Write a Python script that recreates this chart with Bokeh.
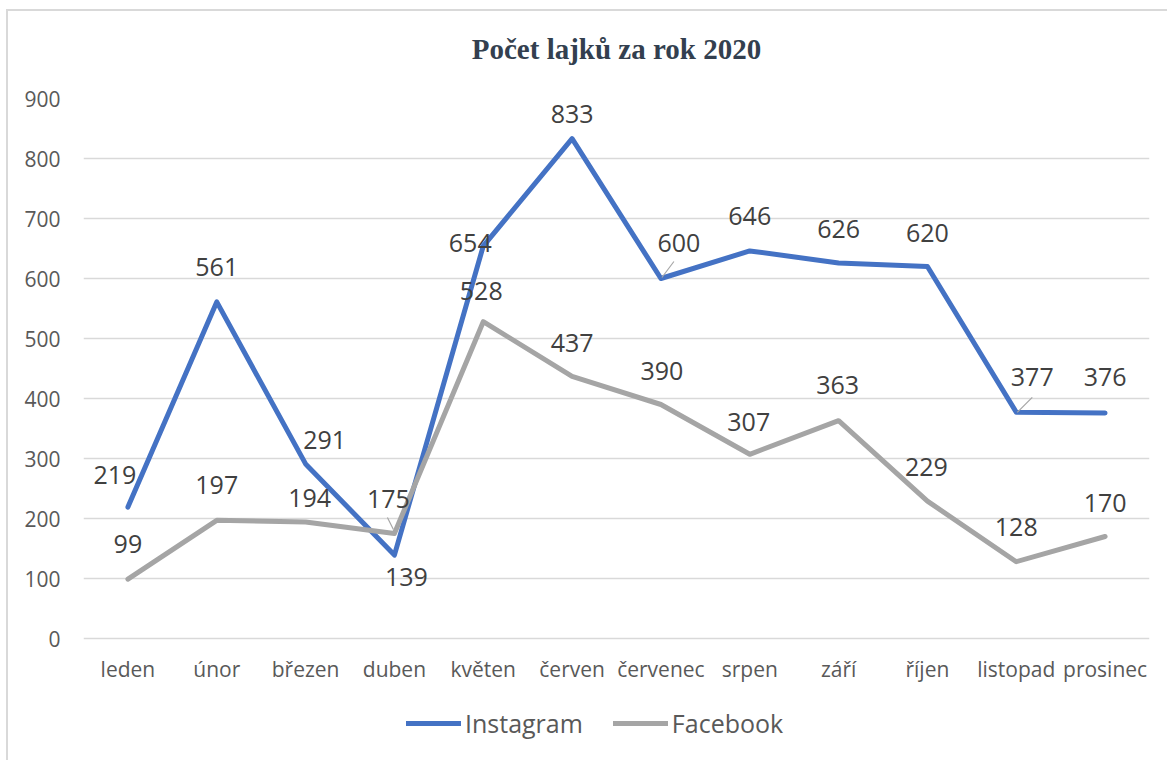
from bokeh.plotting import figure
from bokeh.models import (Range1d, FixedTicker, Legend, LegendItem, ColumnDataSource,
                          Title)
from bokeh.embed import file_html
from bokeh.resources import INLINE
from bokeh.core.properties import value

# ---- data ----
months = ["leden", "únor", "březen", "duben", "květen", "červen", "červenec",
          "srpen", "září", "říjen", "listopad", "prosinec"]
instagram = [219, 561, 291, 139, 654, 833, 600, 646, 626, 620, 377, 376]
facebook = [99, 197, 194, 175, 528, 437, 390, 307, 363, 229, 128, 170]
y_ticks = [0, 100, 200, 300, 400, 500, 600, 700, 800, 900]
title_text = "Počet lajků za rok 2020"

# ---- label placement (screen px, dy positive = up) ----
ig_dx = [-13, 0, 19, 12, -13, 0, 18, 0, 0, 0, 16, 0]
ig_dy = [32, 35, 24, -22, 3, 25, 36, 35, 34, 34, 35, 36]
fb_dx = [0, 0, 4, -6, -2, 0, 1, -1, -1, -1, 0, 0]
fb_dy = [35, 35, 24, 35, 31, 33, 34, 32, 36, 34, 35, 34]

W, H = 1161, 751
ML, MR, MT, MB = 75, 20, 87, 0
PX_Y = 0.6                      # pixels per like on the y scale
px_x = (W - ML - MR) / 12.0
y_top = 900
y_bottom = y_top - (H - MT - MB) / PX_Y   # frame extends below 0 to hold the legend

xs = list(range(len(months)))

p = figure(width=W, height=H, output_backend="svg", toolbar_location=None,
           x_range=Range1d(-0.5, 11.5), y_range=Range1d(y_bottom, y_top),
           min_border_left=ML, min_border_right=MR, min_border_top=MT,
           min_border_bottom=MB, background_fill_color="white",
           border_fill_color="white")
p.outline_line_color = None
p.styles = {"margin-left": "6px", "margin-top": "9px",
            "border-left": "2px solid #D9D9D9", "border-top": "2px solid #D9D9D9"}

# title (spacer below it keeps it at the right height)
p.title.text = ""
p.add_layout(Title(text=" ", text_font_size="24px", standoff=0), "above")
p.add_layout(Title(text=title_text, align="center", text_font="Liberation Serif",
                   text_font_style="bold", text_font_size="29px",
                   text_color="#333F4F", standoff=10), "above")

# axes
p.xaxis.fixed_location = 0
p.xaxis.ticker = FixedTicker(ticks=xs)
p.xaxis.major_label_overrides = {i: m for i, m in enumerate(months)}
p.yaxis.ticker = FixedTicker(ticks=y_ticks)
for ax in (p.xaxis, p.yaxis):
    ax.axis_line_color = None
    ax.major_tick_line_color = None
    ax.minor_tick_line_color = None
    ax.major_label_text_font = "Open Sans"
    ax.major_label_text_font_size = "21px"
    ax.major_label_text_color = "#595959"
p.xaxis.major_label_standoff = 10
p.yaxis.major_label_standoff = 17
p.xgrid.grid_line_color = None
p.ygrid.grid_line_color = "#D9D9D9"
p.ygrid.grid_line_width = 1.3

# lines
r_ig = p.line(xs, instagram, line_color="#4472C4", line_width=5,
              line_cap="round", line_join="round")
r_fb = p.line(xs, facebook, line_color="#A5A5A5", line_width=5,
              line_cap="round", line_join="round")

# leader lines (offsets in px from the point)
leaders = [  # (series, index, sx0, sy0, sx1, sy1)
    (facebook, 3, -1, -4, -7, -16),
    (instagram, 6, 1, -1, 13, -17),
    (instagram, 10, 1, 0, 16, -15),
]
p.segment(x0=[i + a / px_x for s, i, a, b, c, d in leaders],
          y0=[s[i] - b / PX_Y for s, i, a, b, c, d in leaders],
          x1=[i + c / px_x for s, i, a, b, c, d in leaders],
          y1=[s[i] - d / PX_Y for s, i, a, b, c, d in leaders],
          line_color="#A6A6A6", line_width=1.2)

# data labels
for vals, dx, dy in ((instagram, ig_dx, ig_dy), (facebook, fb_dx, fb_dy)):
    src = ColumnDataSource(dict(x=xs, y=vals, t=[str(v) for v in vals],
                                xo=dx, yo=[-d for d in dy]))
    p.text(x="x", y="y", text="t", x_offset="xo", y_offset="yo", source=src,
           text_align="center", text_baseline="middle",
           text_font=value("Open Sans"), text_font_size="25px",
           text_color="#404040")

# legend (inside the extended frame, below the month labels)
legend = Legend(items=[LegendItem(label="Instagram", renderers=[r_ig]),
                       LegendItem(label="Facebook", renderers=[r_fb])],
                orientation="horizontal", location=(323, 22),
                glyph_width=55, glyph_height=30, label_height=30,
                label_standoff=4, spacing=30, padding=0, margin=0,
                border_line_color=None, background_fill_alpha=0,
                label_text_font="Open Sans", label_text_font_size="25px",
                label_text_color="#595959")
p.add_layout(legend, "center")

open("out.html", "w").write(file_html(p, INLINE))
